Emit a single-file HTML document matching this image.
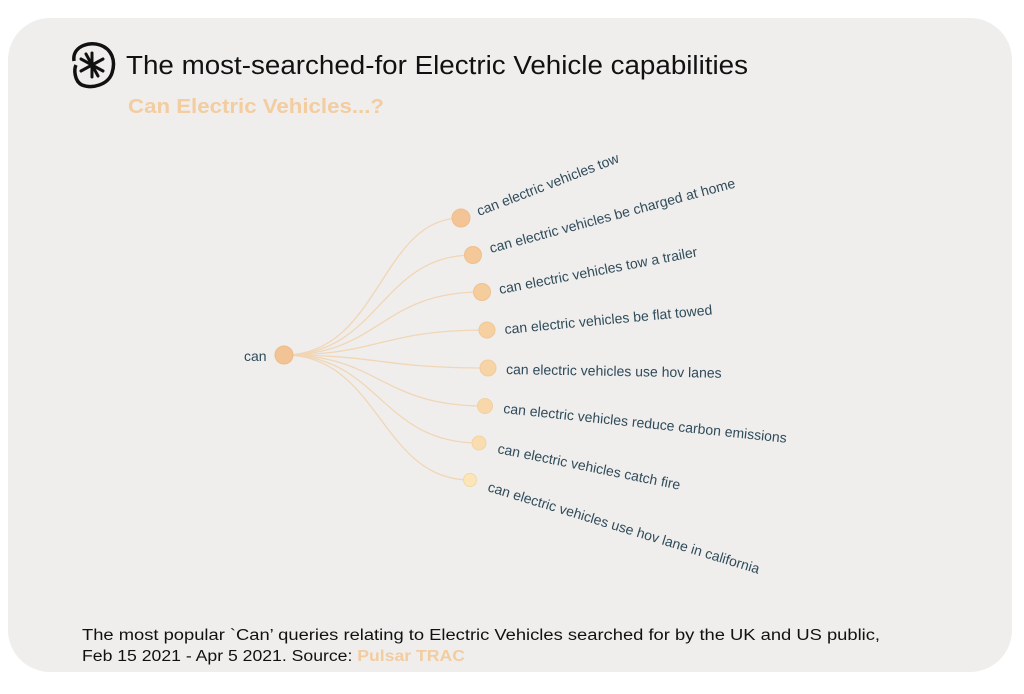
<!DOCTYPE html>
<html><head><style>
body{margin:0;background:#fff;width:1024px;height:694px;overflow:hidden;font-family:"Liberation Sans",sans-serif}
.card{position:absolute;left:8px;top:18px;width:1004px;height:654px;background:#efeeed;border-radius:42px}
</style></head><body>
<div class="card"></div>
<svg width="1024" height="694" style="position:absolute;left:0;top:0">
<g transform="translate(92,65)">
<path d="M-18,-4 C-20,-18 -4,-24 8,-20 C20,-16 24,-4 20,8 C16,20 0,24 -10,20 C-18,16 -18,4 -16,0" fill="none" stroke="#111" stroke-width="3.5"/>
<g stroke="#111" stroke-width="3" stroke-linecap="round">
<line x1="0" y1="-12" x2="0" y2="12"/><line x1="-11" y1="-6" x2="11" y2="6"/><line x1="-11" y1="6" x2="11" y2="-6"/><line x1="-6" y1="-11" x2="6" y2="11"/></g>
</g>
<text x="126" y="74" font-size="25.5" fill="#111" textLength="622" lengthAdjust="spacingAndGlyphs">The most-searched-for Electric Vehicle capabilities</text>
<text x="128" y="113" font-size="20" font-weight="bold" fill="#f3cca0" textLength="256" lengthAdjust="spacingAndGlyphs">Can Electric Vehicles...?</text>
<g fill="none" stroke="#f1d6b6" stroke-width="1.3">
<path d="M284,355 C380,355 380,218 461,218"/>
<path d="M284,355 C380,355 380,255 473,255"/>
<path d="M284,355 C380,355 380,292 482,292"/>
<path d="M284,355 C380,355 380,330 487,330"/>
<path d="M284,355 C380,355 380,368 488,368"/>
<path d="M284,355 C380,355 380,406 485,406"/>
<path d="M284,355 C380,355 380,443 479,443"/>
<path d="M284,355 C380,355 380,480 470,480"/>
</g>
<g stroke-width="1">
<circle cx="284" cy="355" r="9" fill="#f2c495" stroke="#eebb88"/>
<circle cx="461" cy="218" r="9" fill="#f3c596" stroke="#efbd8c"/>
<circle cx="473" cy="255" r="8.5" fill="#f4c898" stroke="#efbf8e"/>
<circle cx="482" cy="292" r="8.5" fill="#f5cc9c" stroke="#f0c290"/>
<circle cx="487" cy="330" r="8" fill="#f6d0a0" stroke="#f1c794"/>
<circle cx="488" cy="368" r="8" fill="#f7d4a6" stroke="#f2cb9a"/>
<circle cx="485" cy="406" r="7.5" fill="#f8d8aa" stroke="#f2cf9e"/>
<circle cx="479" cy="443" r="7" fill="#f9dcaf" stroke="#f3d3a2"/>
<circle cx="470" cy="480" r="6.5" fill="#fbe6b8" stroke="#f3d8a6"/>
</g>
<g font-size="14" fill="#2f4b5a">
<text x="244" y="361">can</text>
<text transform="translate(479,216) rotate(-21)">can electric vehicles tow</text>
<text transform="translate(491,253) rotate(-15)">can electric vehicles be charged at home</text>
<text transform="translate(500,294) rotate(-10.8)">can electric vehicles tow a trailer</text>
<text transform="translate(505,334) rotate(-5.4)">can electric vehicles be flat towed</text>
<text transform="translate(506,374) rotate(1)">can electric vehicles use hov lanes</text>
<text transform="translate(503,413) rotate(6)">can electric vehicles reduce carbon emissions</text>
<text transform="translate(497,453) rotate(11.4)">can electric vehicles catch fire</text>
<text transform="translate(487,491) rotate(17)">can electric vehicles use hov lane in california</text>
</g>
<text x="82" y="640" font-size="15.5" fill="#111" textLength="798" lengthAdjust="spacingAndGlyphs">The most popular `Can’ queries relating to Electric Vehicles searched for by the UK and US public,</text>
<text x="82" y="661" font-size="15.5" fill="#111" textLength="383" lengthAdjust="spacingAndGlyphs">Feb 15 2021 - Apr 5 2021. Source: <tspan fill="#f3cca0" font-weight="bold">Pulsar TRAC</tspan></text>
</svg>
</body></html>
